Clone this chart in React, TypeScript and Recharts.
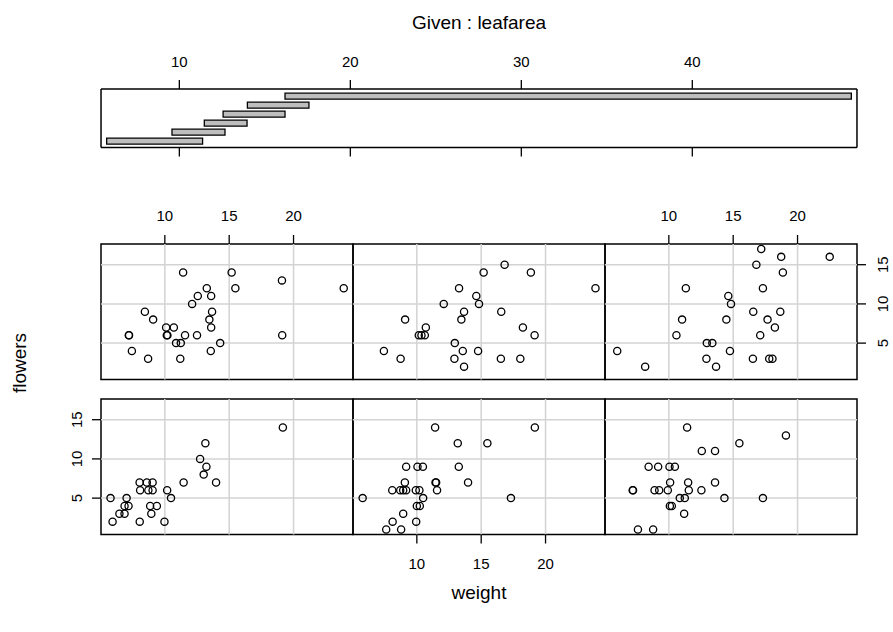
import React from 'react'
import { ScatterChart, Scatter, XAxis, YAxis, ReferenceArea, ReferenceLine, BarChart, Bar } from 'recharts'

// conditioning intervals of leafarea (bottom to top)
const intervalLow = [5.75, 9.57, 11.46, 12.56, 13.98, 16.18]
const intervalHigh = [11.36, 12.67, 13.96, 16.18, 17.58, 49.3]
const givenTicks = [10, 20, 30, 40]

const weightTicks = [10, 15, 20]
const flowerTicks = [5, 10, 15]

// panel 1..3 = bottom row (left to right), 4..6 = top row
const p1Weight = [19.17, 13.15, 12.74, 13.23, 13.02, 11.46, 13.98, 8.04, 8.6, 9.05, 8.08, 8.72, 9.05, 10.18, 5.78, 7.03, 10.48, 6.87, 7.18, 8.86, 9.38, 6.47, 6.87, 8.95, 5.94, 8.05, 9.97]
const p1Flowers = [14, 12, 10, 9, 8, 7, 7, 7, 7, 7, 6, 6, 6, 6, 5, 5, 5, 4, 4, 4, 4, 3, 3, 3, 2, 2, 2]

const p2Weight = [11.42, 19.17, 13.18, 15.48, 9.17, 10.05, 10.47, 13.26, 9.07, 11.45, 11.5, 13.98, 8.09, 8.71, 8.94, 9.17, 9.92, 10.2, 11.57, 5.79, 10.49, 17.31, 10.0, 10.23, 8.94, 8.12, 9.95, 7.62, 8.78]
const p2Flowers = [14, 14, 12, 12, 9, 9, 9, 9, 7, 7, 7, 7, 6, 6, 6, 6, 6, 6, 6, 5, 5, 5, 4, 4, 3, 2, 2, 1, 1]

const p3Weight = [11.42, 19.1, 15.48, 12.56, 13.59, 8.43, 9.17, 10.05, 10.47, 10.1, 11.5, 13.59, 7.19, 7.22, 8.89, 9.25, 9.92, 11.55, 12.53, 10.85, 11.24, 14.32, 17.31, 10.08, 10.23, 11.19, 7.6, 8.78]
const p3Flowers = [14, 13, 12, 11, 11, 9, 9, 9, 9, 7, 7, 7, 6, 6, 6, 6, 6, 6, 6, 5, 5, 5, 5, 4, 4, 3, 1, 1]

const p4Weight = [11.42, 15.19, 19.1, 15.48, 23.9, 13.26, 12.56, 13.6, 12.12, 8.45, 13.67, 9.09, 13.46, 10.1, 10.7, 13.6, 7.2, 7.22, 10.15, 10.2, 11.57, 12.5, 19.12, 10.87, 11.24, 14.3, 7.44, 13.57, 8.7, 11.2]
const p4Flowers = [14, 14, 13, 12, 12, 12, 11, 11, 10, 9, 9, 8, 8, 7, 7, 7, 6, 6, 6, 6, 6, 6, 6, 5, 5, 5, 4, 4, 3, 3]

const p5Weight = [16.82, 15.19, 18.86, 13.28, 23.88, 14.62, 12.09, 14.83, 13.67, 16.56, 9.09, 13.46, 10.7, 18.24, 10.15, 10.36, 10.62, 19.15, 12.95, 7.44, 13.57, 14.76, 8.74, 12.92, 16.53, 18.04, 13.67]
const p5Flowers = [15, 14, 14, 12, 12, 11, 10, 10, 9, 9, 8, 8, 7, 7, 6, 6, 6, 6, 5, 4, 4, 4, 3, 3, 3, 3, 2]

const p6Weight = [17.18, 18.73, 22.5, 16.8, 18.86, 11.32, 17.31, 14.62, 14.83, 16.56, 18.66, 11.03, 14.47, 17.67, 18.24, 10.59, 17.1, 12.95, 13.38, 5.99, 14.75, 12.92, 16.53, 17.8, 18.05, 8.16, 13.67]
const p6Flowers = [17, 16, 16, 15, 14, 12, 12, 11, 10, 9, 9, 8, 8, 8, 7, 6, 6, 5, 5, 4, 4, 3, 3, 3, 3, 2, 2]

const X_DOMAIN = [5.04, 24.62]
const Y_DOMAIN = [0.36, 17.64]
const G_DOMAIN = [5.42, 49.63]

const FONT = '"Liberation Sans", Arial, Helvetica, sans-serif'
const PAD = 45
const AX = 40
const TICK = 9
const PW = 252
const PH = 135.5
const COLS = [101, 353, 605]
const ROWS = [244, 399]

const tickStyle = { fontSize: 15, fill: '#000', fontFamily: FONT }
const edge = { stroke: '#000', strokeWidth: 1.5 }

const RotTick = (props: any) => {
	const { x, y, payload } = props
	return (
		<text transform={`translate(${x},${y}) rotate(-90)`} textAnchor='middle' fontSize={15} fontFamily={FONT} fill='#000'>
			{payload.value}
		</text>
	)
}

const Ring = (props: any) => <circle cx={props.cx} cy={props.cy} r={3.6} fill='none' stroke='#000' strokeWidth={1.3} />

type Axes = { top?: boolean; bottom?: boolean; left?: boolean; right?: boolean }

const Panel = ({ weight, flowers, left, top, axes }: { weight: number[]; flowers: number[]; left: number; top: number; axes: Axes }) => {
	const data = weight.map((w, i) => ({ weight: w, flowers: flowers[i] }))
	const margin = {
		top: axes.top ? PAD - AX : PAD,
		bottom: axes.bottom ? PAD - AX : PAD,
		left: axes.left ? PAD - AX : PAD,
		right: axes.right ? PAD - AX : PAD,
	}
	return (
		<div style={{ position: 'absolute', left: left - PAD, top: top - PAD }}>
			<ScatterChart width={PW + 2 * PAD} height={PH + 2 * PAD} margin={margin}>
				<XAxis
					type='number'
					dataKey='weight'
					domain={X_DOMAIN}
					allowDataOverflow
					ticks={weightTicks}
					orientation={axes.top ? 'top' : 'bottom'}
					hide={!axes.top && !axes.bottom}
					height={AX}
					axisLine={false}
					tickSize={TICK}
					tickMargin={axes.top ? 14 : 15}
					tickLine={{ stroke: '#000', strokeWidth: 1.3 }}
					tick={tickStyle}
					interval={0}
				/>
				<YAxis
					type='number'
					dataKey='flowers'
					domain={Y_DOMAIN}
					allowDataOverflow
					ticks={flowerTicks}
					orientation={axes.right ? 'right' : 'left'}
					hide={!axes.left && !axes.right}
					width={AX}
					axisLine={false}
					tickSize={TICK}
					tickMargin={axes.right ? 22 : 10.5}
					tickLine={{ stroke: '#000', strokeWidth: 1.3 }}
					tick={<RotTick />}
					interval={0}
				/>
				{weightTicks.map((t) => (
					<ReferenceLine key={'x' + t} x={t} stroke='#d3d3d3' strokeWidth={1.5} />
				))}
				{flowerTicks.map((t) => (
					<ReferenceLine key={'y' + t} y={t} stroke='#d3d3d3' strokeWidth={1.5} />
				))}
				<Scatter data={data} shape={<Ring />} isAnimationActive={false} />
				<ReferenceArea
					x1={X_DOMAIN[0]}
					x2={X_DOMAIN[1]}
					y1={Y_DOMAIN[0]}
					y2={Y_DOMAIN[1]}
					fill='none'
					stroke='#000'
					strokeWidth={1.5}
					fillOpacity={0}
					ifOverflow='visible'
				/>
			</ScatterChart>
		</div>
	)
}

const GivenPanel = () => {
	const data = intervalLow.map((lo, i) => ({ name: String(i + 1), range: [lo, intervalHigh[i]] }))
	const gw = 756
	const gh = 58.4
	return (
		<div style={{ position: 'absolute', left: 101 - PAD, top: 89.3 - PAD }}>
			<BarChart
				layout='vertical'
				width={gw + 2 * PAD}
				height={gh + 2 * PAD}
				data={data}
				margin={{ top: PAD - AX, bottom: PAD - AX, left: PAD - 1, right: PAD - 1 }}
			>
				<XAxis
					type='number'
					orientation='top'
					domain={G_DOMAIN}
					allowDataOverflow
					ticks={givenTicks}
					height={AX}
					axisLine={edge}
					tickSize={TICK}
					tickMargin={13}
					tickLine={{ stroke: '#000', strokeWidth: 1.3 }}
					tick={tickStyle}
					interval={0}
				/>
				<XAxis
					xAxisId='b'
					type='number'
					orientation='bottom'
					domain={G_DOMAIN}
					allowDataOverflow
					ticks={givenTicks}
					height={AX}
					axisLine={edge}
					tickSize={TICK}
					tickLine={{ stroke: '#000', strokeWidth: 1.3 }}
					tickFormatter={() => ''}
					interval={0}
				/>
				<YAxis
					type='category'
					dataKey='name'
					reversed
					padding={{ top: 2.2, bottom: 2.2 }}
					width={1}
					tick={false}
					tickLine={false}
					axisLine={edge}
				/>
				<YAxis
					yAxisId='r'
					orientation='right'
					type='number'
					domain={[0, 1]}
					width={1}
					tick={false}
					tickLine={false}
					axisLine={edge}
				/>
				<Bar dataKey='range' barSize={6} fill='#bebebe' stroke='#000' strokeWidth={1.3} isAnimationActive={false} />
			</BarChart>
		</div>
	)
}

export default function App() {
	return (
		<div style={{ position: 'absolute', left: 0, top: 0, width: 893, height: 632, background: '#fff', fontFamily: FONT }}>
			<svg width={893} height={632} style={{ position: 'absolute', left: 0, top: 0 }}>
				<text x={479} y={29} textAnchor='middle' fontSize={19} fontFamily={FONT} fill='#000'>
					Given : leafarea
				</text>
				<text x={479} y={599} textAnchor='middle' fontSize={19} fontFamily={FONT} fill='#000'>
					weight
				</text>
				<text transform='translate(26,363) rotate(-90)' textAnchor='middle' fontSize={19} fontFamily={FONT} fill='#000'>
					flowers
				</text>
			</svg>
			<GivenPanel />
			<Panel weight={p4Weight} flowers={p4Flowers} left={COLS[0]} top={ROWS[0]} axes={{ top: true }} />
			<Panel weight={p5Weight} flowers={p5Flowers} left={COLS[1]} top={ROWS[0]} axes={{}} />
			<Panel weight={p6Weight} flowers={p6Flowers} left={COLS[2]} top={ROWS[0]} axes={{ top: true, right: true }} />
			<Panel weight={p1Weight} flowers={p1Flowers} left={COLS[0]} top={ROWS[1]} axes={{ left: true }} />
			<Panel weight={p2Weight} flowers={p2Flowers} left={COLS[1]} top={ROWS[1]} axes={{ bottom: true }} />
			<Panel weight={p3Weight} flowers={p3Flowers} left={COLS[2]} top={ROWS[1]} axes={{}} />
		</div>
	)
}
